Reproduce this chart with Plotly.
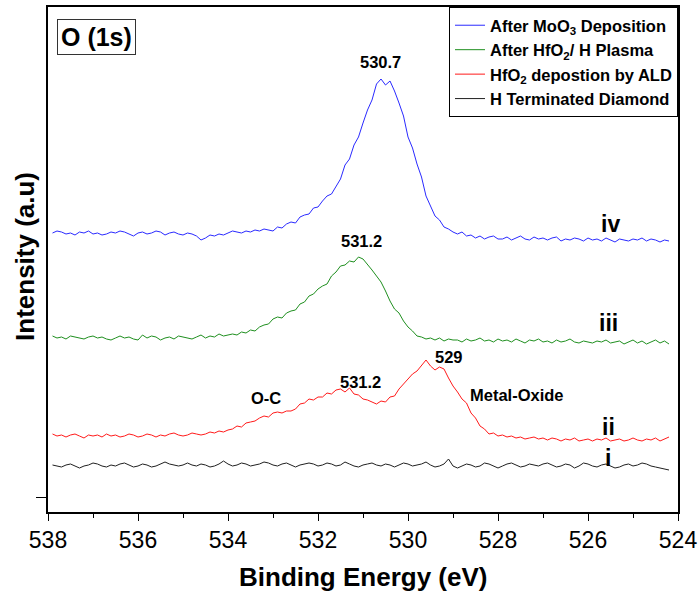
import plotly.graph_objects as go

energy = [
    537.9, 537.8, 537.7, 537.6, 537.5, 537.4, 537.3, 537.2, 537.1, 537.0,
    536.9, 536.8, 536.7, 536.6, 536.5, 536.4, 536.3, 536.2, 536.1, 536.0,
    535.9, 535.8, 535.7, 535.6, 535.5, 535.4, 535.3, 535.2, 535.1, 535.0,
    534.9, 534.8, 534.7, 534.6, 534.5, 534.4, 534.3, 534.2, 534.1, 534.0,
    533.9, 533.8, 533.7, 533.6, 533.5, 533.4, 533.3, 533.2, 533.1, 533.0,
    532.9, 532.8, 532.7, 532.6, 532.5, 532.4, 532.3, 532.2, 532.1, 532.0,
    531.9, 531.8, 531.7, 531.6, 531.5, 531.4, 531.3, 531.2, 531.1, 531.0,
    530.9, 530.8, 530.7, 530.6, 530.5, 530.4, 530.3, 530.2, 530.1, 530.0,
    529.9, 529.8, 529.7, 529.6, 529.5, 529.4, 529.3, 529.2, 529.1, 529.0,
    528.9, 528.8, 528.7, 528.6, 528.5, 528.4, 528.3, 528.2, 528.1, 528.0,
    527.9, 527.8, 527.7, 527.6, 527.5, 527.4, 527.3, 527.2, 527.1, 527.0,
    526.9, 526.8, 526.7, 526.6, 526.5, 526.4, 526.3, 526.2, 526.1, 526.0,
    525.9, 525.8, 525.7, 525.6, 525.5, 525.4, 525.3, 525.2, 525.1, 525.0,
    524.9, 524.8, 524.7, 524.6, 524.5, 524.4, 524.3, 524.2,
]

h_terminated = [
    32, 31, 30, 32, 33, 31, 29, 31, 32, 34,
    33, 31, 30, 32, 31, 33, 34, 32, 30, 31,
    33, 32, 30, 31, 33, 35, 33, 32, 31, 32,
    34, 32, 31, 33, 32, 30, 31, 33, 36, 33,
    31, 32, 34, 33, 31, 32, 33, 35, 34, 32,
    31, 33, 34, 32, 30, 32, 33, 34, 33, 31,
    32, 34, 33, 31, 32, 35, 33, 31, 30, 32,
    33, 34, 32, 31, 33, 32, 30, 32, 34, 33,
    31, 32, 33, 35, 32, 30, 31, 33, 38, 31,
    29, 31, 33, 32, 30, 31, 34, 33, 31, 29,
    31, 33, 34, 32, 30, 31, 33, 32, 31, 33,
    34, 32, 30, 31, 33, 32, 29, 31, 34, 33,
    31, 30, 32, 33, 31, 29, 30, 32, 33, 31,
    32, 34, 33, 31, 30, 29, 28, 27,
]

hfo2_ald = [
    63, 61, 62, 60, 62, 63, 61, 59, 62, 61,
    62, 60, 63, 61, 62, 60, 61, 63, 62, 60,
    61, 63, 62, 60, 62, 61, 63, 64, 62, 61,
    62, 64, 63, 62, 63, 65, 64, 66, 65, 67,
    68, 71, 70, 74, 75, 76, 79, 81, 80, 84,
    85, 84, 86, 86, 88, 93, 94, 98, 97, 100,
    100, 104, 103, 107, 108, 105, 109, 103, 102, 98,
    97, 95, 93, 96, 95, 100, 101, 108, 113, 119,
    123, 126, 132, 137, 131, 127, 130, 128, 119, 111,
    105, 98, 94, 84, 79, 71, 68, 63, 64, 61,
    62, 60, 61, 59, 60, 58, 59, 60, 58, 59,
    57, 59, 58, 56, 58, 57, 59, 56, 57, 58,
    56, 58, 57, 59, 56, 57, 58, 56, 57, 59,
    57, 56, 58, 57, 59, 56, 58, 60,
]

hfo2_plasma = [
    161, 159, 160, 158, 161, 160, 159, 158, 160, 161,
    159, 160, 158, 157, 159, 161, 159, 160, 158, 157,
    162, 159, 161, 160, 157, 159, 160, 158, 161, 160,
    159, 158, 160, 162, 159, 161, 160, 163, 161, 162,
    163, 162, 165, 164, 167, 166, 170, 172, 173, 178,
    180, 179, 184, 186, 187, 193, 195, 201, 203, 208,
    211, 213, 221, 225, 231, 232, 236, 235, 240, 238,
    233, 227, 221, 215, 206, 196, 188, 184, 176, 170,
    166, 161, 160, 158, 159, 157, 159, 156, 158, 157,
    157, 155, 158, 156, 157, 159, 156, 157, 155, 158,
    156, 157, 155, 158, 156, 154, 157, 156, 158, 155,
    156, 154, 157, 155, 156, 158, 155, 154, 156, 155,
    154, 156, 155, 157, 154, 155, 156, 153, 155, 157,
    154, 156, 153, 155, 157, 154, 156, 153,
]

moo3 = [
    264, 266, 265, 263, 264, 262, 265, 264, 266, 263,
    264, 262, 263, 265, 264, 266, 265, 263, 261, 264,
    265, 263, 264, 266, 265, 262, 264, 265, 263, 262,
    264, 263, 261, 257, 259, 262, 261, 263, 262, 264,
    266, 265, 264, 266, 265, 267, 266, 268, 267, 266,
    270, 269, 273, 275, 274, 280, 282, 283, 289, 290,
    296, 301, 303, 311, 318, 332, 338, 352, 360, 374,
    387, 397, 413, 418, 412, 416, 406, 394, 381, 360,
    349, 333, 320, 301, 291, 281, 277, 270, 268, 265,
    263, 265, 261, 262, 259, 261, 258, 260, 261, 258,
    258, 260, 257, 259, 261, 258, 257, 260, 258, 259,
    257, 259, 260, 256, 258, 257, 259, 258, 256, 259,
    257, 258, 256, 259, 257, 255, 258, 257, 256, 258,
    257, 259, 256, 258, 257, 255, 257, 256,
]

series_names = [
    "After MoO<sub>3</sub> Deposition",
    "After HfO<sub>2</sub>/ H Plasma",
    "HfO<sub>2</sub> depostion by ALD",
    "H Terminated Diamond",
]
series_values = [moo3, hfo2_plasma, hfo2_ald, h_terminated]
series_colors = ["#2a2aff", "#1f8f1f", "#ff1a1a", "#202020"]

x_ticks = [538, 536, 534, 532, 530, 528, 526, 524]

peak_labels = [
    ("530.7", 530.61, 435, 16.5),
    ("531.2", 531.03, 256, 16.5),
    ("531.2", 531.06, 115, 16.5),
    ("529", 529.10, 140, 16.5),
    ("O-C", 533.15, 99, 16.5),
    ("Metal-Oxide", 527.58, 102, 16.5),
    ("iv", 525.49, 273, 23),
    ("iii", 525.54, 174, 23),
    ("ii", 525.54, 70, 23),
    ("i", 525.56, 39, 23),
]

FONT = "Liberation Sans, Arial, sans-serif"

fig = go.Figure()
for name, vals, col in zip(series_names, series_values, series_colors):
    fig.add_trace(go.Scatter(x=energy, y=vals, mode="lines", name=name,
                             line=dict(color=col, width=1)))

for text, xv, yv, size in peak_labels:
    fig.add_annotation(x=xv, y=yv, text="<b>%s</b>" % text, showarrow=False,
                       font=dict(family=FONT, size=size, color="black"))

fig.add_annotation(x=536.93, y=460.5, text="<b>O (1s)</b>", showarrow=False,
                   font=dict(family=FONT, size=25, color="black"),
                   bordercolor="#333", borderwidth=1, borderpad=3,
                   bgcolor="white")

fig.add_annotation(x=0.5, y=-0.129, xref="paper", yref="paper",
                   text="<b>Binding Energy (eV)</b>", showarrow=False,
                   yanchor="middle",
                   font=dict(family=FONT, size=26, color="black"))
fig.add_annotation(x=-0.0365, y=0.505, xref="paper", yref="paper",
                   text="<b>Intensity (a.u)</b>", showarrow=False,
                   textangle=-90, xanchor="center", yanchor="middle",
                   font=dict(family=FONT, size=26, color="black"))

fig.update_layout(
    width=700, height=596,
    margin=dict(l=48, r=22, t=7, b=84, autoexpand=False),
    paper_bgcolor="white", plot_bgcolor="white",
    showlegend=True,
    legend=dict(x=1, xanchor="right", y=1, yanchor="top",
                bordercolor="black", borderwidth=1, bgcolor="white",
                font=dict(family=FONT, size=16.5, color="black", weight="bold"),
                itemwidth=30, tracegroupgap=0),
    xaxis=dict(range=[538, 524], tickvals=x_ticks, automargin=False,
               ticks="outside", ticklen=7, tickwidth=1, tickcolor="black",
               minor=dict(dtick=1, ticks="outside", ticklen=4, tickcolor="black"),
               showline=True, linecolor="black", linewidth=1.5, mirror=True,
               showgrid=False, zeroline=False,
               tickfont=dict(family=FONT, size=23, color="black")),
    yaxis=dict(range=[-15, 490], tickvals=[0], ticktext=[""], automargin=False,
               ticks="outside", ticklen=10, tickwidth=1, tickcolor="black",
               showline=True, linecolor="black", linewidth=1.5, mirror=True,
               showgrid=False, zeroline=False),
)

fig.write_html("out.html", config={"displayModeBar": False},
               post_script="document.body.style.margin='0';document.body.style.overflow='hidden';")
